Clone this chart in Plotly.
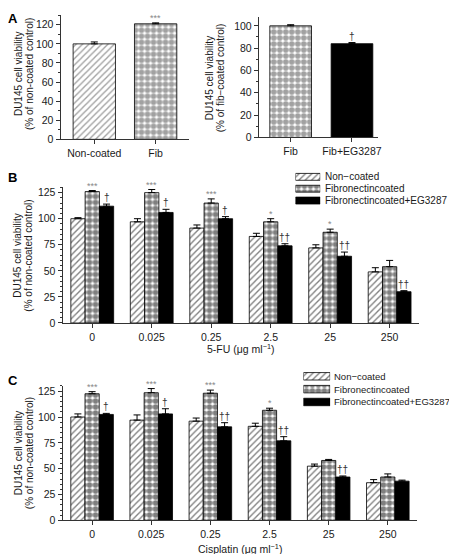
import plotly.graph_objects as go

# ---------------- data ----------------
a_left_cats = ["Non-coated", "Fib"]
a_left_vals = [100, 121]
a_left_err = [2, 1]
a_left_marks = ["", "***"]

a_right_cats = ["Fib", "Fib+EG3287"]
a_right_vals = [100, 84]
a_right_err = [1, 1]
a_right_marks = ["", "†"]

dose_labels = ["0", "0.025", "0.25", "2.5", "25", "250"]

fu_noncoated = [100, 97, 91, 83, 72, 49]
fu_noncoated_err = [1, 3, 3, 3, 3, 4]
fu_fib = [126, 125, 115, 97, 87, 54]
fu_fib_err = [1, 3, 4, 3, 3, 6]
fu_eg = [112, 106, 100, 74, 64, 30]
fu_eg_err = [2, 3, 2, 2, 4, 1]
fu_fib_marks = ["***", "***", "***", "*", "*", ""]
fu_eg_marks = ["†", "†", "†", "††", "††", "††"]

cis_noncoated = [100, 97, 96, 91, 52.5, 36.5]
cis_noncoated_err = [3, 5, 3, 3, 2, 3]
cis_fib = [122.5, 123.5, 123, 106.5, 58, 42]
cis_fib_err = [2, 4, 3, 2, 1, 3]
cis_eg = [102.5, 103, 90.5, 77, 42, 38]
cis_eg_err = [1, 5, 4, 4, 1, 1]
cis_fib_marks = ["***", "***", "***", "*", "", ""]
cis_eg_marks = ["†", "†", "††", "††", "††", ""]

legend_names = ["Non\u2212coated", "Fibronectincoated", "Fibronectincoated+EG3287"]

# ---------------- style ----------------
W, H = 457, 554
FONT = "Liberation Sans, Arial, sans-serif"
AX = "#333333"
TXT = "#1a1a1a"
BAR_GAP = 0.28

HATCH = dict(shape="/", fgcolor="black", bgcolor="white", size=4.5, solidity=0.3)
CHECK = dict(shape=".", fgcolor="black", bgcolor="white", size=6, solidity=0.7)
SOLID = dict(shape="")
STYLES = [("white", HATCH), ("white", CHECK), ("black", SOLID)]


def px_x(p):
    return p / W


def px_y(p):
    return 1 - p / H


fig = go.Figure()


def err(arr):
    return dict(type="data", array=arr, arrayminus=[0] * len(arr), symmetric=False,
                color="black", thickness=1, width=3.5)


# Panel A left
fig.add_trace(go.Bar(
    x=list(range(len(a_left_cats))), y=a_left_vals, width=0.69,
    marker=dict(color=["white", "white"], line=dict(color="black", width=0.8),
                pattern=dict(shape=[HATCH["shape"], CHECK["shape"]], fgcolor="black", bgcolor="white",
                             size=[HATCH["size"], CHECK["size"]],
                             solidity=[HATCH["solidity"], CHECK["solidity"]])),
    error_y=err(a_left_err), xaxis="x", yaxis="y", showlegend=False))

# Panel A right
fig.add_trace(go.Bar(
    x=list(range(len(a_right_cats))), y=a_right_vals, width=0.68,
    marker=dict(color=["white", "black"], line=dict(color="black", width=0.8),
                pattern=dict(shape=[CHECK["shape"], ""], fgcolor="black", bgcolor="white",
                             size=CHECK["size"], solidity=CHECK["solidity"])),
    error_y=err(a_right_err), xaxis="x2", yaxis="y2", showlegend=False))

# Panels B and C
panel_data = [
    ("x3", "y3", [(fu_noncoated, fu_noncoated_err), (fu_fib, fu_fib_err), (fu_eg, fu_eg_err)]),
    ("x4", "y4", [(cis_noncoated, cis_noncoated_err), (cis_fib, cis_fib_err), (cis_eg, cis_eg_err)]),
]
for xa, ya, series in panel_data:
    for k, (vals, errs) in enumerate(series):
        col, pat = STYLES[k]
        fig.add_trace(go.Bar(
            x=list(range(len(dose_labels))), y=vals, name=legend_names[k],
            marker=dict(color=col, line=dict(color="black", width=0.8), pattern=pat),
            error_y=err(errs), xaxis=xa, yaxis=ya, showlegend=False))

# Manual legends (swatches as horizontal bars on hidden axes)
for xa, ya in [("x5", "y5"), ("x6", "y6")]:
    for k in range(3):
        col, pat = STYLES[k]
        fig.add_trace(go.Bar(
            y=[k], x=[1], base=[0], orientation="h", width=0.58,
            marker=dict(color=col, line=dict(color="black", width=0.8), pattern=pat),
            xaxis=xa, yaxis=ya, showlegend=False, hoverinfo="skip"))

annotations = []


def mark(xref, yref, x, y, text):
    if not text:
        return
    dag = "†" in text
    annotations.append(dict(
        x=x, y=y, xref=xref, yref=yref, text=text, showarrow=False,
        yanchor="bottom", xanchor="center", yshift=-1 if dag else -2,
        font=dict(family=FONT, size=10 if dag else 9, color="#333333" if dag else "#888888")))


for i, (v, e, m) in enumerate(zip(a_left_vals, a_left_err, a_left_marks)):
    mark("x", "y", i, v + e, m)
for i, (v, e, m) in enumerate(zip(a_right_vals, a_right_err, a_right_marks)):
    mark("x2", "y2", i, v + e, m)

bw = (1 - BAR_GAP) / 3
for xa, ya, fib, fibe, fm, eg, ege, em in [
        ("x3", "y3", fu_fib, fu_fib_err, fu_fib_marks, fu_eg, fu_eg_err, fu_eg_marks),
        ("x4", "y4", cis_fib, cis_fib_err, cis_fib_marks, cis_eg, cis_eg_err, cis_eg_marks)]:
    for i in range(len(dose_labels)):
        mark(xa, ya, i, fib[i] + fibe[i], fm[i])
        mark(xa, ya, i + bw, eg[i] + ege[i], em[i])

# Legend texts
for ys, xt, fs in [([170, 182, 194], 318, 10), ([372, 385, 398], 327, 9.5)]:
    for k, yy in enumerate(ys):
        annotations.append(dict(x=px_x(xt), y=px_y(yy), xref="paper", yref="paper",
                                text=legend_names[k], showarrow=False, xanchor="left",
                                yanchor="middle", font=dict(family=FONT, size=fs, color=TXT)))

# Panel letters
for letter, xx, yy in [("A", 5, 10), ("B", 5, 171), ("C", 5, 376)]:
    annotations.append(dict(x=px_x(xx), y=px_y(yy), xref="paper", yref="paper", text="<b>%s</b>" % letter,
                            showarrow=False, xanchor="center", yanchor="middle",
                            font=dict(family=FONT, size=13, color="black")))

# Y titles (two lines each)
for (l1, l2), x1, x2, yc in [
        (("DU145 cell viability", "(% of non-coated control)"), 10, 21, 66),
        (("DU145 cell viability", "(% of fib\u2212coated control)"), 203, 214, 70),
        (("DU145 cell viability", "(% of non-coated control)"), 10, 21, 250),
        (("DU145 cell viability", "(% of non-coated control)"), 10, 21, 450)]:
    for txt, xx in [(l1, x1), (l2, x2)]:
        annotations.append(dict(x=px_x(xx), y=px_y(yc), xref="paper", yref="paper", text=txt,
                                showarrow=False, textangle=-90, xanchor="center", yanchor="middle",
                                font=dict(family=FONT, size=10, color=TXT)))

# X titles
for txt, xx, yy in [("5-FU (μg ml<sup>\u22121</sup>)", 235, 344), ("Cisplatin (μg ml<sup>\u22121</sup>)", 234, 546)]:
    annotations.append(dict(x=px_x(xx), y=px_y(yy), xref="paper", yref="paper", text=txt,
                            showarrow=False, xanchor="center", yanchor="middle",
                            font=dict(family=FONT, size=10.5, color=TXT)))


def xaxis(dom, rng, ticks_text, anchor):
    return dict(domain=[px_x(dom[0]), px_x(dom[1])], range=rng, anchor=anchor,
                tickmode="array", tickvals=list(range(len(ticks_text))), ticktext=ticks_text,
                showline=True, linecolor=AX, linewidth=1, ticks="outside", ticklen=4,
                tickcolor=AX, tickwidth=1, showgrid=False, zeroline=False,
                tickfont=dict(family=FONT, size=10.5, color=TXT), fixedrange=True)


def yaxis(dom, rng, dtick, mdtick, anchor):
    return dict(domain=[px_y(dom[0]), px_y(dom[1])], range=rng, anchor=anchor,
                tick0=0, dtick=dtick, showline=True, linecolor=AX, linewidth=1,
                ticks="outside", ticklen=4, tickcolor=AX, tickwidth=1,
                minor=dict(dtick=mdtick, ticks="outside", ticklen=2, tickcolor=AX, showgrid=False),
                showgrid=False, zeroline=False,
                tickfont=dict(family=FONT, size=10.5, color=TXT), fixedrange=True)


hidden = dict(visible=False, fixedrange=True, showgrid=False, zeroline=False)

fig.update_layout(
    width=W, height=H, margin=dict(l=0, r=0, t=0, b=0),
    paper_bgcolor="white", plot_bgcolor="white",
    barmode="group", bargap=BAR_GAP, bargroupgap=0,
    font=dict(family=FONT, color=TXT),
    xaxis=xaxis((53, 183), [-0.55, 1.55], a_left_cats, "y"),
    yaxis=yaxis((132, 6.3), [0, 130], 20, 10, "x"),
    xaxis2=xaxis((253, 373), [-0.52, 1.42], a_right_cats, "y2"),
    yaxis2=yaxis((130, 8), [0, 108], 20, 10, "x2"),
    xaxis3=xaxis((55, 415), [-0.5, 5.5], dose_labels, "y3"),
    yaxis3=yaxis((318, 180.7), [0, 130], 25, 5, "x3"),
    xaxis4=xaxis((55, 413), [-0.5, 5.5], dose_labels, "y4"),
    yaxis4=yaxis((518, 381.8), [0, 130], 25, 5, "x4"),
    xaxis5=dict(domain=[px_x(290), px_x(315)], range=[0, 1], anchor="y5", **hidden),
    yaxis5=dict(domain=[px_y(200), px_y(164)], range=[2.5, -0.5], anchor="x5", **hidden),
    xaxis6=dict(domain=[px_x(298), px_x(325)], range=[0, 1], anchor="y6", **hidden),
    yaxis6=dict(domain=[px_y(404.5), px_y(365.5)], range=[2.5, -0.5], anchor="x6", **hidden),
    annotations=annotations,
)

fig.write_html("out.html")
